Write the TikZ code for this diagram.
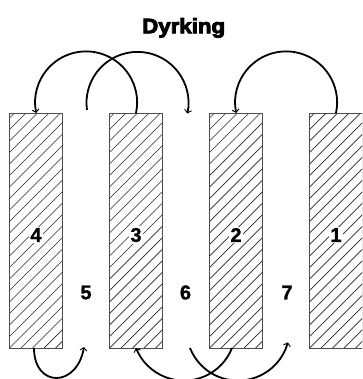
\documentclass[tikz,border=0pt]{standalone}
\usepackage{fontspec}
\setmainfont{Liberation Sans}
\newfontfamily\titlefont{Liberation Sans Bold}[FakeBold=4]
\newfontfamily\digitfont{Liberation Sans Bold}[FakeBold=1.2]
\usetikzlibrary{arrows.meta}
\begin{document}
\begin{tikzpicture}[x=1pt,y=1pt,
  hatch/.style={draw=black!85, line width=0.7pt},
  rectbox/.style={draw=black!70, line width=1pt, minimum width=53pt, minimum height=234.5pt, inner sep=0pt,
    path picture={\foreach \k in {-24,...,6}{\draw[hatch] ([xshift=\k*11.5pt]path picture bounding box.south west) -- ++(260pt,260pt);}}},
  num/.style={font=\digitfont\fontsize{20}{24}\selectfont, inner sep=1.5pt},
  numw/.style={num, fill=white},
  arr/.style={line width=1.8pt, -{Straight Barb[length=3pt,width=7pt,line width=0.9pt]}}
]
\useasboundingbox (0,0) rectangle (362,-379);
\clip (0,0) rectangle (362,-379);
\node[font=\titlefont\fontsize{21}{25}\selectfont, xscale=1.06, anchor=base, inner sep=0pt] (title) at (183.7,-33.3) {Dyrking};
% rectangles
\node[rectbox] (r4) at (36,-230.75) {};
\node[rectbox] (r3) at (136,-230.75) {};
\node[rectbox] (r2) at (236,-230.75) {};
\node[rectbox] (r1) at (336,-230.75) {};
% numbers
\node[numw] (n4) at (36,-235) {4};
\node[numw] (n3) at (136,-235) {3};
\node[numw] (n2) at (236,-235) {2};
\node[numw] (n1) at (336,-235) {1};
\node[num] (n5) at (86,-292.5) {5};
\node[num] (n6) at (185.5,-292.5) {6};
\node[num] (n7) at (287,-292.5) {7};
% coordinates
\coordinate (t5) at (87,-110);
\coordinate (a4) at (34,-348);
\coordinate (a5) at (84,-347);
\coordinate (b2) at (232,-348);
\coordinate (c6) at (190,-348);
% top arcs
\draw[arr] (r3.north) arc[start angle=-12, end angle=192, radius=51pt];
\draw[arr] (t5) arc[start angle=188, end angle=-12, radius=51pt];
\draw[arr] (r1.north) arc[start angle=-12, end angle=192, radius=51pt];
% bottom arcs
\draw[arr] (a4) .. controls (34,-388) and (77,-388) .. (a5);
\draw[arr] (b2) arc[start angle=-21.6, end angle=-158.4, radius=51.6pt];
\draw[arr] (c6) arc[start angle=201.6, end angle=345, radius=51.6pt];
\end{tikzpicture}
\end{document}
